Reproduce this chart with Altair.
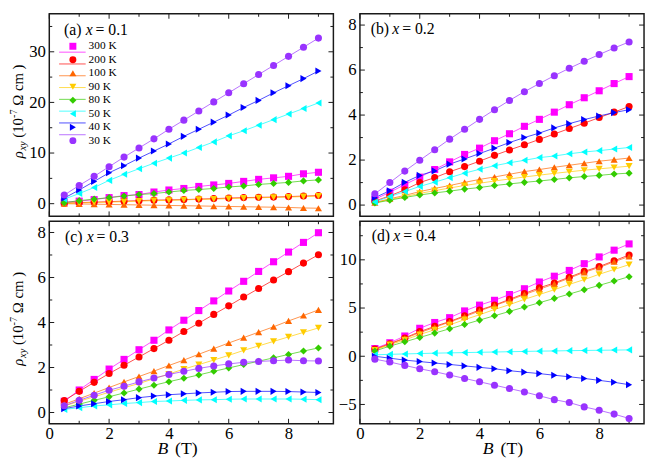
import altair as alt
import pandas as pd

# ---------------- data ----------------
B_VALUES = [0.5, 1.0, 1.5, 2.0, 2.5, 3.0, 3.5, 4.0, 4.5, 5.0, 5.5, 6.0, 6.5, 7.0, 7.5, 8.0, 8.5, 9.0]
TEMPS = ["300 K", "200 K", "100 K", "90 K", "80 K", "50 K", "40 K", "30 K"]
COLORS = ["#ff00ff", "#ff0000", "#ff6600", "#ffcc00", "#33cc00", "#00ffff", "#0000ff", "#9933ff"]
SHAPES = ["square", "circle", "triangle-up", "triangle-down", "diamond", "triangle-left", "triangle-right", "circle"]

# (a) x = 0.1
a300 = [0.3, 0.5, 0.8, 1.2, 1.6, 1.8, 2.3, 2.7, 3.0, 3.4, 3.7, 4.0, 4.4, 4.8, 5.1, 5.4, 5.9, 6.2]
a200 = [0.1, 0.2, 0.3, 0.4, 0.5, 0.6, 0.7, 0.75, 0.8, 0.9, 1.0, 1.1, 1.2, 1.25, 1.3, 1.4, 1.5, 1.6]
a100 = [0.0, -0.05, -0.1, -0.15, -0.2, -0.25, -0.3, -0.35, -0.4, -0.45, -0.5, -0.55, -0.6, -0.65, -0.7, -0.75, -0.85, -0.9]
a90 = [0.05, 0.15, 0.25, 0.3, 0.4, 0.5, 0.6, 0.65, 0.75, 0.85, 0.9, 1.0, 1.1, 1.15, 1.25, 1.3, 1.4, 1.5]
a80 = [0.2, 0.6, 0.9, 1.2, 1.5, 1.8, 2.0, 2.3, 2.6, 2.8, 3.0, 3.3, 3.5, 3.8, 4.0, 4.2, 4.5, 4.7]
a50 = [0.9, 2.0, 3.2, 4.6, 5.8, 6.9, 8.0, 9.0, 10.0, 11.1, 12.2, 13.4, 14.4, 15.5, 16.6, 17.7, 18.8, 19.9]
a40 = [1.1, 2.7, 4.4, 6.1, 7.5, 9.0, 10.4, 11.8, 13.3, 14.7, 16.1, 17.5, 19.0, 20.4, 21.9, 23.3, 24.7, 26.2]
a30 = [1.7, 3.6, 5.4, 7.3, 9.2, 11.0, 12.8, 14.7, 16.5, 18.3, 20.1, 21.9, 23.7, 25.5, 27.3, 29.1, 30.9, 32.7]

# (b) x = 0.2
b300 = [0.26, 0.57, 0.91, 1.24, 1.58, 1.92, 2.25, 2.53, 2.86, 3.17, 3.50, 3.81, 4.13, 4.46, 4.77, 5.08, 5.40, 5.71]
b200 = [0.18, 0.41, 0.68, 1.0, 1.22, 1.48, 1.71, 1.95, 2.21, 2.45, 2.68, 2.92, 3.16, 3.40, 3.64, 3.89, 4.13, 4.38]
b100 = [0.11, 0.28, 0.43, 0.60, 0.74, 0.87, 1.01, 1.14, 1.25, 1.37, 1.49, 1.58, 1.68, 1.77, 1.86, 1.95, 2.02, 2.09]
b90 = [0.10, 0.25, 0.38, 0.52, 0.64, 0.76, 0.87, 0.97, 1.07, 1.16, 1.25, 1.33, 1.41, 1.48, 1.55, 1.61, 1.67, 1.73]
b80 = [0.09, 0.22, 0.34, 0.45, 0.54, 0.62, 0.71, 0.78, 0.87, 0.94, 1.01, 1.07, 1.14, 1.21, 1.27, 1.32, 1.38, 1.42]
b50 = [0.14, 0.38, 0.60, 0.83, 1.02, 1.22, 1.42, 1.59, 1.75, 1.88, 1.99, 2.11, 2.18, 2.28, 2.36, 2.42, 2.49, 2.56]
b40 = [0.33, 0.64, 1.01, 1.32, 1.52, 1.82, 2.05, 2.29, 2.53, 2.78, 3.0, 3.20, 3.43, 3.62, 3.80, 3.96, 4.11, 4.24]
b30 = [0.50, 1.0, 1.51, 1.99, 2.46, 2.93, 3.37, 3.81, 4.24, 4.65, 5.04, 5.40, 5.75, 6.08, 6.39, 6.69, 6.98, 7.25]

# (c) x = 0.3
c300 = [0.5, 1.0, 1.47, 1.93, 2.36, 2.79, 3.21, 3.67, 4.1, 4.53, 4.96, 5.4, 5.83, 6.27, 6.7, 7.13, 7.56, 7.99]
c200 = [0.53, 0.94, 1.34, 1.73, 2.1, 2.47, 2.84, 3.21, 3.6, 3.97, 4.36, 4.74, 5.13, 5.51, 5.89, 6.26, 6.64, 7.01]
c100 = [0.36, 0.61, 0.86, 1.11, 1.36, 1.6, 1.84, 2.09, 2.33, 2.59, 2.84, 3.09, 3.33, 3.57, 3.81, 4.07, 4.31, 4.56]
c90 = [0.29, 0.5, 0.7, 0.9, 1.1, 1.29, 1.5, 1.71, 1.93, 2.13, 2.33, 2.54, 2.76, 2.96, 3.16, 3.36, 3.56, 3.76]
c80 = [0.21, 0.37, 0.54, 0.70, 0.87, 1.04, 1.21, 1.37, 1.52, 1.67, 1.83, 1.98, 2.13, 2.28, 2.43, 2.58, 2.73, 2.87]
c50 = [0.14, 0.21, 0.29, 0.34, 0.40, 0.44, 0.49, 0.51, 0.54, 0.56, 0.57, 0.59, 0.60, 0.60, 0.60, 0.60, 0.59, 0.57]
c40 = [0.17, 0.29, 0.39, 0.49, 0.57, 0.66, 0.73, 0.79, 0.83, 0.87, 0.90, 0.93, 0.94, 0.94, 0.94, 0.93, 0.91, 0.89]
c30 = [0.30, 0.54, 0.77, 0.99, 1.17, 1.36, 1.53, 1.69, 1.83, 1.96, 2.07, 2.16, 2.23, 2.27, 2.30, 2.33, 2.30, 2.29]

# (d) x = 0.4
d300 = [0.8, 1.4, 2.1, 2.9, 3.5, 4.0, 4.7, 5.3, 5.8, 6.4, 7.0, 7.7, 8.3, 8.9, 9.6, 10.3, 11.0, 11.65]
d200 = [0.75, 1.3, 1.9, 2.55, 3.1, 3.6, 4.2, 4.8, 5.3, 5.9, 6.5, 7.1, 7.6, 8.2, 8.8, 9.3, 9.9, 10.5]
d100 = [0.7, 1.25, 1.85, 2.45, 3.0, 3.55, 4.1, 4.7, 5.25, 5.8, 6.4, 6.95, 7.5, 8.1, 8.7, 9.2, 9.8, 10.35]
d90 = [0.65, 1.2, 1.7, 2.25, 2.75, 3.25, 3.8, 4.3, 4.85, 5.35, 5.9, 6.4, 6.9, 7.45, 7.95, 8.5, 9.0, 9.5]
d80 = [0.55, 1.05, 1.5, 1.95, 2.4, 2.85, 3.3, 3.75, 4.2, 4.65, 5.1, 5.55, 6.0, 6.45, 6.9, 7.35, 7.8, 8.25]
d50 = [0.15, 0.2, 0.24, 0.28, 0.32, 0.35, 0.38, 0.41, 0.44, 0.47, 0.5, 0.53, 0.55, 0.58, 0.6, 0.62, 0.64, 0.66]
d40 = [0.0, -0.2, -0.4, -0.55, -0.7, -0.85, -1.0, -1.15, -1.3, -1.5, -1.65, -1.8, -1.97, -2.13, -2.3, -2.5, -2.7, -2.95]
d30 = [-0.3, -0.6, -0.95, -1.3, -1.6, -1.95, -2.3, -2.65, -3.0, -3.35, -3.7, -4.1, -4.5, -4.8, -5.25, -5.6, -6.0, -6.45]

X_MAJOR = [0, 2, 4, 6, 8]
X_MINOR = [1, 3, 5, 7, 9]

# ---------------- style ----------------
FONT = "Liberation Serif"
INK = "#1a1a1a"
W, H = 289, 206

color_scale = alt.Scale(domain=TEMPS, range=COLORS)
shape_scale = alt.Scale(domain=TEMPS, range=SHAPES)


def long_df(series):
    rows = []
    for t, vals in zip(TEMPS, series):
        for b, v in zip(B_VALUES, vals):
            rows.append({"B": b, "rho": v, "T": t})
    return pd.DataFrame(rows)


def text_piece(s, x, y, size, style="normal", angle=0):
    return alt.Chart(pd.DataFrame({"s": [s]})).mark_text(
        align="left", baseline="alphabetic", font=FONT, fontSize=size,
        fontStyle=style, angle=angle, color="black"
    ).encode(x=alt.value(x), y=alt.value(y), text="s:N")


def make_panel(series, ydom, ymaj, ymin, bottom, label, lx, ly, legend=False, ytitle=False, bx=None):
    xs = alt.Scale(domain=[0, 9.5], nice=False, zero=False)
    ys = alt.Scale(domain=ydom, nice=False, zero=False)
    if bottom:
        x_axis = alt.Axis(values=X_MAJOR, ticks=False, domain=False, grid=False, title=None,
                          labelFont=FONT, labelFontSize=17, labelColor="black",
                          labelPadding=2, labelFlush=False)
    else:
        x_axis = None
    y_axis = alt.Axis(values=ymaj, ticks=False, domain=False, grid=False, title=None, orient="left",
                      labelFont=FONT, labelFontSize=17, labelColor="black",
                      labelPadding=4, labelFlush=False)
    X = alt.X("B:Q", scale=xs, axis=x_axis)
    Yax = alt.Y("rho:Q", scale=ys, axis=y_axis)
    Yn = alt.Y("rho:Q", scale=ys, axis=None)
    col = alt.Color("T:N", scale=color_scale, legend=None)
    shp = alt.Shape("T:N", scale=shape_scale, legend=None)

    df = long_df(series)
    layers = []
    # inward ticks on all sides
    for vals, L in [(X_MAJOR, 5), (X_MINOR, 3)]:
        tdf = pd.DataFrame({"B": vals})
        base = alt.Chart(tdf).mark_rule(color=INK, strokeWidth=1)
        layers.append(base.encode(x=X, y=alt.value(H), y2=alt.value(H - L)))
        layers.append(base.encode(x=X, y=alt.value(0), y2=alt.value(L)))
    for vals, L in [(ymaj, 5), (ymin, 3)]:
        tdf = pd.DataFrame({"rho": vals})
        base = alt.Chart(tdf).mark_rule(color=INK, strokeWidth=1)
        layers.append(base.encode(y=Yn, x=alt.value(0), x2=alt.value(L)))
        layers.append(base.encode(y=Yn, x=alt.value(W), x2=alt.value(W - L)))

    layers.append(alt.Chart(df).mark_line(strokeWidth=1, opacity=0.7).encode(
        x=X, y=Yn, color=col, order=alt.Order("B:Q")))
    layers.append(alt.Chart(df).mark_point(filled=True, size=52, opacity=1).encode(
        x=X, y=Yax, color=col, shape=shp))

    if legend:
        ldf = pd.DataFrame({"T": TEMPS})
        LY = alt.Y("T:N", scale=alt.Scale(domain=TEMPS, range=[33, 129], padding=0), axis=None)
        layers.append(alt.Chart(ldf).mark_rule(strokeWidth=1, opacity=0.7).encode(
            x=alt.value(10), x2=alt.value(37), y=LY, color=col))
        layers.append(alt.Chart(ldf).mark_point(filled=True, size=50, opacity=1).encode(
            x=alt.value(24), y=LY, color=col, shape=shp))
        layers.append(alt.Chart(ldf).mark_text(align="left", baseline="middle", font=FONT,
                                               fontSize=11.5, color="black").encode(
            x=alt.value(40), y=LY, text="T:N"))

    # panel label "(a) x = 0.1"
    letter, xval = label
    layers.append(text_piece(letter, lx, ly, 16))
    layers.append(text_piece("x", lx + 22, ly, 16, "italic"))
    layers.append(text_piece("= " + xval, lx + 32, ly, 16))

    if ytitle:
        layers.append(text_piece("ρ", -27, 147, 15, "italic", 270))
        layers.append(text_piece("xy", -23.5, 139, 10.5, "italic", 270))
        layers.append(text_piece("(10", -27, 126, 15, "normal", 270))
        layers.append(text_piece("-7", -33, 106, 10.5, "normal", 270))
        layers.append(text_piece("Ω cm )", -27, 93.5, 15, "normal", 270))

    if bx is not None:
        layers.append(text_piece("B", bx, 237, 18, "italic"))
        layers.append(text_piece("(T)", bx + 18, 237, 18))

    return alt.layer(*layers).resolve_scale(y="independent").properties(width=W, height=H)


pa = make_panel([a300, a200, a100, a90, a80, a50, a40, a30], [-2.5, 37.5], [0, 10, 20, 30],
                [5, 15, 25, 35], False, ("(a)", "0.1"), 15, 22, legend=True, ytitle=True)
pb = make_panel([b300, b200, b100, b90, b80, b50, b40, b30], [-0.5, 8.5], [0, 2, 4, 6, 8],
                [1, 3, 5, 7], False, ("(b)", "0.2"), 11, 21)
pc = make_panel([c300, c200, c100, c90, c80, c50, c40, c30], [-0.5, 8.5], [0, 2, 4, 6, 8],
                [1, 3, 5, 7], True, ("(c)", "0.3"), 16, 21, ytitle=True, bx=110)
pd_ = make_panel([d300, d200, d100, d90, d80, d50, d40, d30], [-7, 14], [-5, 0, 5, 10],
                 [-2.5, 2.5, 7.5, 12.5], True, ("(d)", "0.4"), 12, 20, bx=125)

chart = alt.concat(pa, pb, pc, pd_, columns=2, spacing={"row": 5, "column": 27}, bounds="flush").properties(
    padding={"left": 0, "top": 0, "right": 0, "bottom": 0},
    background="white",
).configure_view(stroke=INK, strokeWidth=1.5)

chart.save("out.html", embed_options={"renderer": "svg", "actions": False})
